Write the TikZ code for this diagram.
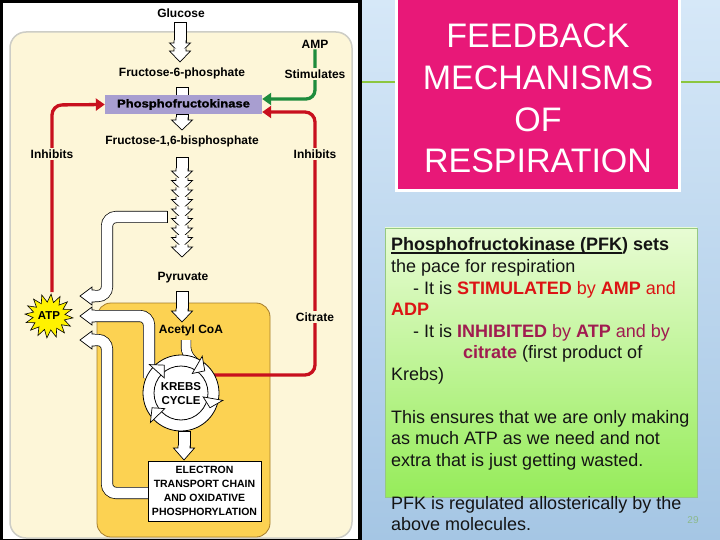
\documentclass[tikz,border=0pt]{standalone}
\usepackage{fontspec}
\setmainfont{Liberation Sans}
\newfontfamily\heavyfont[FakeBold=1.5,FakeStretch=1.15]{Liberation Sans Bold}
\usetikzlibrary{arrows.meta}
\definecolor{cream}{RGB}{253,246,216}
\definecolor{creamborder}{RGB}{205,205,198}
\definecolor{mito}{RGB}{252,210,82}
\definecolor{mitoborder}{RGB}{165,125,45}
\definecolor{pfkcol}{RGB}{168,158,208}
\definecolor{redc}{RGB}{200,16,30}
\definecolor{greenc}{RGB}{30,140,60}
\definecolor{pinkc}{RGB}{232,24,120}
\definecolor{slidetop}{RGB}{214,232,248}
\definecolor{slidebot}{RGB}{165,198,228}
\definecolor{boxtop}{RGB}{232,252,212}
\definecolor{boxbot}{RGB}{150,236,90}
\definecolor{boxborder}{RGB}{150,200,130}
\definecolor{txtred}{RGB}{220,20,20}
\definecolor{inhibcol}{RGB}{160,28,80}
\definecolor{txtblack}{RGB}{20,20,20}
\definecolor{slideline}{RGB}{140,198,63}
\definecolor{pagenum}{RGB}{140,185,140}
\newcommand{\myul}[1]{\setbox0\hbox{#1}\rlap{\rule[-2.6pt]{\wd0}{1.3pt}}\box0}
\newcommand{\vhead}[3]{% x, ybase, ytip
  \fill[white] (#1-6,#2-2.5) -- (#1-6,#2) -- (#1-10.5,#2) -- (#1,#3) -- (#1+10.5,#2) -- (#1+6,#2) -- (#1+6,#2-2.5) -- cycle;
  \draw[line width=0.7pt,line join=miter] (#1-6,#2-2.5) -- (#1-6,#2) -- (#1-10.5,#2) -- (#1,#3) -- (#1+10.5,#2) -- (#1+6,#2) -- (#1+6,#2-2.5);}
\newcommand{\vshaft}[3]{% x, y1, y2
  \fill[white] (#1-6,#2) rectangle (#1+6,#3);
  \draw[line width=0.7pt] (#1-6,#3) -- (#1-6,#2) -- (#1+6,#2) -- (#1+6,#3);}
\newcommand{\lhead}[3]{% xbase, y, xtip
  \fill[white] (#1+2.5,#2-6) -- (#1,#2-6) -- (#1,#2-9) -- (#3,#2) -- (#1,#2+9) -- (#1,#2+6) -- (#1+2.5,#2+6) -- cycle;
  \draw[line width=0.7pt,line join=miter] (#1+2.5,#2-6) -- (#1,#2-6) -- (#1,#2-9) -- (#3,#2) -- (#1,#2+9) -- (#1,#2+6) -- (#1+2.5,#2+6);}
\begin{document}
\begin{tikzpicture}[x=1pt,y=-1pt,
  lab/.style={font=\bfseries\fontsize{12}{14}\selectfont, inner sep=1pt, text=black},
  flab/.style={lab, fill=cream, inner sep=2pt},
  redarrow/.style={draw=redc, line width=3.3pt, rounded corners=10pt, -{Triangle[length=9pt,width=12pt]}},
  greenarrow/.style={draw=greenc, line width=3.3pt, rounded corners=9pt, -{Triangle[length=9pt,width=12pt]}},
  pipe/.style={draw=black, line width=0.7pt, double=white, double distance=10.6pt, rounded corners=9pt},
  txt/.style={anchor=base west, inner sep=0pt, font=\fontsize{18}{21.5}\selectfont, text=txtblack},
  title/.style={anchor=base, inner sep=0pt, font=\fontsize{34}{40}\selectfont, text=white}]
\useasboundingbox (0,0) rectangle (720,540);

% ---------- slide background ----------
\shade[top color=slidetop, bottom color=slidebot] (360,0) rectangle (720,540);
\draw[slideline, line width=2pt] (362,82) -- (720,82);

% ---------- title box ----------
\draw[fill=pinkc, draw=white, line width=3pt] (396.5,-5) rectangle (679.5,190.5);
\node[title] (t1) at (538,47.5) {FEEDBACK};
\node[title] (t2) at (538,90) {MECHANISMS};
\node[title] (t3) at (538,131.5) {OF};
\node[title] (t4) at (538,173) {RESPIRATION};

% ---------- text box ----------
\path[draw=boxborder, line width=0.8pt, top color=boxtop, bottom color=boxbot] (385,228) rectangle (697,497);
\node[txt] (l1) at (391,251) {\bfseries\myul{Phosphofructokinase (PFK}) sets};
\node[txt] (l2) at (391,272.5) {the pace for respiration};
\node[txt] (l3) at (413,294) {- It is \textcolor{txtred}{\textbf{STIMULATED} by \textbf{AMP} and}};
\node[txt] (l4) at (391,315.5) {\textcolor{txtred}{\textbf{ADP}}};
\node[txt] (l5) at (413,337) {- It is \textcolor{inhibcol}{\textbf{INHIBITED} by \textbf{ATP} and by}};
\node[txt] (l6) at (463,358.5) {\textcolor{inhibcol}{\textbf{citrate}} (first product of};
\node[txt] (l7) at (391,380) {Krebs)};
\node[txt] (l8) at (391,423) {This ensures that we are only making};
\node[txt] (l9) at (391,444.5) {as much ATP as we need and not};
\node[txt] (l10) at (391,466) {extra that is just getting wasted.};
\node[txt] (l11) at (391,509) {PFK is regulated allosterically by the};
\node[txt] (l12) at (391,530.5) {above molecules.};
\node[font=\fontsize{10}{12}\selectfont, text=pagenum, inner sep=0pt] (pg) at (693,520) {29};

% ---------- left image ----------
\fill[black] (0,0) rectangle (362,540);
\fill[white] (3,3) rectangle (358,539);
\draw[fill=cream, draw=creamborder, line width=1.5pt, rounded corners=16pt] (10,32) rectangle (352,538);
\draw[fill=mito, draw=mitoborder, line width=0.8pt, rounded corners=14pt] (97,303) rectangle (270,537);

% text nodes
\node[lab] (glu) at (181,13) {Glucose};
\node[lab] (amp) at (315,44) {AMP};
\node[lab] (f6p) at (182,73) {Fructose-6-phosphate};
\node[lab] (f16) at (182,141) {Fructose-1,6-bisphosphate};
\node[lab] (pyr) at (183,278) {Pyruvate};
\node[lab] (acoa) at (191,330) {Acetyl CoA};

% shaft F6P -> PFK (under PFK box)
\vshaft{182}{87}{97}
\node[fill=pfkcol, minimum width=157pt, minimum height=19pt, inner sep=0pt, font=\heavyfont\fontsize{11.3}{13}\selectfont] (pfk) at (183.5,104.5) {Phosphofructokinase};

% red and green regulation lines
\draw[redarrow] (52,292) -- (52,105) -- (pfk.west);
\draw[redarrow] (214,375) -- (315,375) -- (315,112) -- ([yshift=-7.5pt]pfk.east);
\draw[greenarrow] (amp.south) -- (315,99) -- ([yshift=5.5pt]pfk.east);
\node[flab] (inhl) at (52,154) {Inhibits};
\node[flab] (inhr) at (315,154) {Inhibits};
\node[flab] (cit) at (315,317) {Citrate};
\node[flab] (stim) at (315,74) {Stimulates};

% glucose arrow
\vshaft{180}{22}{44}
\vhead{180}{43}{53}
\vhead{180}{51}{62}
% PFK -> F16BP
\vshaft{182}{114}{121}
\vhead{182}{120}{130}
% glycolysis chain
\vshaft{182}{157}{172}
\foreach \i in {0,...,8} {\vhead{182}{171+9.5*\i}{181+9.5*\i}}
% pyruvate -> acetyl CoA
\vshaft{182}{291}{312}
\vhead{182}{311}{322}

% ATP pipes
\draw[pipe] (167,217) -- (107,217) -- (107,296) -- (92,296);
\draw[line width=0.7pt] (167,211) -- (167,223);
\lhead{92}{296}{80}
\draw[pipe] (149,378) -- (149,316) -- (92,316);
\lhead{92}{316}{80}
\draw[pipe] (148,493) -- (107,493) -- (107,340) -- (92,340);
\lhead{92}{340}{80}

% acetyl CoA into Krebs
\draw[draw=black, line width=0.7pt, double=white, double distance=9pt, rounded corners=7pt] (186,340) -- (186,354) -- (196,364);

% Krebs cycle ring
\begin{scope}[shift={(181,393)}]
  \draw[fill=white, line width=0.8pt] (0,0) circle (38);
  \draw[fill=white, line width=0.8pt] (0,0) circle (27);
  \foreach \a in {300,10,136,222} {
    \draw[fill=white, line width=0.7pt, line join=miter] (\a:22.5) -- (\a:42.5) -- (\a+17:32.5) -- cycle;
  }
\end{scope}
\node[font=\bfseries\fontsize{11.5}{14}\selectfont, align=center, inner sep=0pt] (krebs) at (181,394) {KREBS\\CYCLE};

% Krebs -> ETC
\vshaft{184}{431}{449}
\vhead{184}{448}{460}
\node[draw, fill=white, line width=0.8pt, minimum width=113pt, minimum height=60pt, inner sep=0pt, align=center, font=\bfseries\fontsize{10.5}{13.8}\selectfont] (etc) at (204.5,491) {ELECTRON\\TRANSPORT CHAIN\\AND OXIDATIVE\\PHOSPHORYLATION};

% ATP starburst
\draw[fill=yellow, line width=0.6pt, line join=miter] plot[samples at={0,...,31}, variable=\k]
  ({49+ifthenelse(mod(\k,2)==0,24,16)*cos(\k*11.25+5)}, {316+ifthenelse(mod(\k,2)==0,22,14)*sin(\k*11.25+5)}) -- cycle;
\node[inner sep=0pt, font=\bfseries\fontsize{11.5}{12}\selectfont] (atp) at (49,316) {ATP};
\end{tikzpicture}
\end{document}
